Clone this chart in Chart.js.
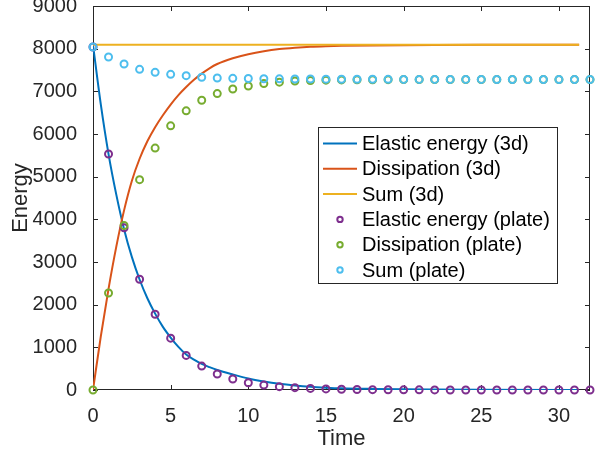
<!DOCTYPE html>
<html>
<head>
<meta charset="utf-8">
<script src="https://cdn.jsdelivr.net/npm/chart.js@4.4.0/dist/chart.umd.min.js"></script>
<style>
  html, body { margin: 0; padding: 0; background: #fff; }
  #wrap { width: 602px; height: 452px; }
</style>
</head>
<body>
<div id="wrap"><canvas id="energy-chart" width="602" height="452"></canvas></div>
<script>
// 3d solution (continuous curves)
var time3d = [0, 0.5, 1, 1.5, 2, 2.5, 3, 3.5, 4, 4.5, 5, 5.5, 6, 6.5, 7, 7.5, 8, 9, 10, 11, 12, 13, 14, 15, 16, 18, 20, 22, 25, 31.3];
var elastic3d = [8090, 6700, 5530, 4580, 3770, 3120, 2590, 2150, 1790, 1480, 1230, 1010, 830, 710, 610, 535, 470, 365, 270, 200, 145, 105, 75, 55, 40, 25, 15, 10, 5, 0];
var dissip3d = [0, 1250, 2370, 3360, 4210, 4900, 5420, 5830, 6160, 6440, 6690, 6910, 7100, 7270, 7415, 7540, 7640, 7775, 7870, 7940, 7990, 8022, 8045, 8058, 8066, 8076, 8082, 8086, 8089, 8090];
var sumTime3d = [0, 31.3];
var sum3d = [8090, 8090];

// plate solution (markers, one per time unit)
var timePlate = [0, 1, 2, 3, 4, 5, 6, 7, 8, 9, 10, 11, 12, 13, 14, 15, 16, 17, 18, 19, 20, 21, 22, 23, 24, 25, 26, 27, 28, 29, 30, 31, 32];
var elasticPlate = [8040, 5530, 3800, 2595, 1776, 1215, 811, 561, 374, 257, 171, 115, 78, 55, 38, 25, 18, 12, 8, 6, 4, 3, 2, 1, 1, 0, 0, 0, 0, 0, 0, 0, 0];
var dissipPlate = [0, 2273, 3855, 4930, 5670, 6192, 6542, 6791, 6947, 7056, 7126, 7181, 7215, 7240, 7255, 7262, 7268, 7270, 7272, 7274, 7275, 7275, 7275, 7276, 7276, 7276, 7276, 7276, 7276, 7276, 7276, 7276, 7276];
var sumPlate = [8040, 7804, 7640, 7516, 7445, 7398, 7367, 7329, 7313, 7305, 7300, 7295, 7292, 7290, 7288, 7286, 7284, 7283, 7282, 7281, 7280, 7280, 7280, 7279, 7279, 7279, 7278, 7278, 7278, 7278, 7277, 7277, 7277];

var xTicks = [0, 5, 10, 15, 20, 25, 30];
var yTicks = [0, 1000, 2000, 3000, 4000, 5000, 6000, 7000, 8000, 9000];

var axisColor = "#262626";
var fontName = "'Liberation Sans', Arial, sans-serif";

function pts(xs, ys) {
  return xs.map(function (x, i) { return { x: x, y: ys[i] }; });
}

function lineSet(label, xs, ys, color, order) {
  return {
    label: label, data: pts(xs, ys), borderColor: color, backgroundColor: color,
    borderWidth: 2, pointRadius: 0, showLine: true, cubicInterpolationMode: 'monotone',
    order: order, kind: 'line'
  };
}

function markerSet(label, xs, ys, color, order) {
  return {
    label: label, data: pts(xs, ys), borderColor: color, backgroundColor: 'rgba(0,0,0,0)',
    borderWidth: 2, pointRadius: 3.5, pointStyle: 'circle', showLine: false,
    order: order, clip: false, kind: 'marker'
  };
}

// box + inward tick marks, drawn under the data like MATLAB
var axesBox = {
  id: 'axesBox',
  beforeDatasetsDraw: function (chart) {
    var c = chart.ctx, a = chart.chartArea, xs = chart.scales.x, ys = chart.scales.y, len = 5;
    c.save();
    c.strokeStyle = axisColor;
    c.lineWidth = 1;
    c.strokeRect(a.left + 0.5, a.top + 0.5, a.right - a.left - 1, a.bottom - a.top - 1);
    c.beginPath();
    xTicks.forEach(function (v) {
      var px = Math.round(xs.getPixelForValue(v)) + 0.5;
      c.moveTo(px, a.bottom); c.lineTo(px, a.bottom - len);
      c.moveTo(px, a.top); c.lineTo(px, a.top + len);
    });
    yTicks.forEach(function (v) {
      var py = Math.round(ys.getPixelForValue(v)) + 0.5;
      c.moveTo(a.left, py); c.lineTo(a.left + len, py);
      c.moveTo(a.right, py); c.lineTo(a.right - len, py);
    });
    c.stroke();
    c.restore();
  }
};

// legend box inside the axes
var boxLegend = {
  id: 'boxLegend',
  afterDraw: function (chart) {
    var c = chart.ctx;
    var bx = 318.5, by = 127.5, bw = 239, bh = 156, row = 25.3, y0 = 143.5;
    c.save();
    c.fillStyle = '#fff';
    c.fillRect(bx, by, bw, bh);
    c.strokeStyle = axisColor;
    c.lineWidth = 1;
    c.strokeRect(bx, by, bw, bh);
    c.font = "20px " + fontName;
    c.textBaseline = 'middle';
    chart.data.datasets.forEach(function (ds, i) {
      var y = y0 + i * row;
      c.strokeStyle = ds.borderColor;
      c.lineWidth = 2;
      c.beginPath();
      if (ds.kind === 'line') {
        c.moveTo(323, y); c.lineTo(357, y);
      } else {
        c.arc(340, y, 2.7, 0, Math.PI * 2);
      }
      c.stroke();
      c.fillStyle = '#000';
      c.fillText(ds.label, 362, y + 1);
    });
    c.restore();
  }
};

new Chart("energy-chart", {
  type: 'scatter',
  data: {
    datasets: [
      lineSet('Elastic energy (3d)', time3d, elastic3d, '#0072BD', 6),
      lineSet('Dissipation (3d)', time3d, dissip3d, '#D95319', 5),
      lineSet('Sum (3d)', sumTime3d, sum3d, '#EDB120', 4),
      markerSet('Elastic energy (plate)', timePlate, elasticPlate, '#7E2F8E', 3),
      markerSet('Dissipation (plate)', timePlate, dissipPlate, '#77AC30', 2),
      markerSet('Sum (plate)', timePlate, sumPlate, '#4DBEEE', 1),
    ],
  },
  options: {
    responsive: false,
    animation: false,
    layout: { padding: { top: 5, right: 12, left: 0, bottom: 0 } },
    plugins: { legend: { display: false }, tooltip: { enabled: false } },
    scales: {
      x: {
        type: 'linear', min: 0, max: 32,
        afterBuildTicks: function (s) { s.ticks = xTicks.map(function (v) { return { value: v }; }); },
        afterFit: function (s) { s.height = 62; s.paddingLeft = 0; s.paddingRight = 0; },
        grid: { display: false },
        border: { display: false },
        ticks: { color: axisColor, font: { family: fontName, size: 20 }, padding: 6, maxRotation: 0,
          callback: function (v) { return String(v); } },
        title: { display: true, text: 'Time', color: axisColor, font: { family: fontName, size: 22 }, padding: { top: 10, bottom: 0 } },
      },
      y: {
        type: 'linear', min: 0, max: 9000,
        afterBuildTicks: function (s) { s.ticks = yTicks.map(function (v) { return { value: v }; }); },
        afterFit: function (s) { s.width = 93; s.paddingTop = 0; s.paddingBottom = 0; },
        grid: { display: false },
        border: { display: false },
        ticks: { color: axisColor, font: { family: fontName, size: 20 }, padding: 8,
          callback: function (v) { return String(v); } },
        title: { display: true, text: 'Energy', color: axisColor, font: { family: fontName, size: 22 }, padding: { top: 8, bottom: 0 } },
      },
    },
  },
  plugins: [axesBox, boxLegend],
});
</script>
</body>
</html>
